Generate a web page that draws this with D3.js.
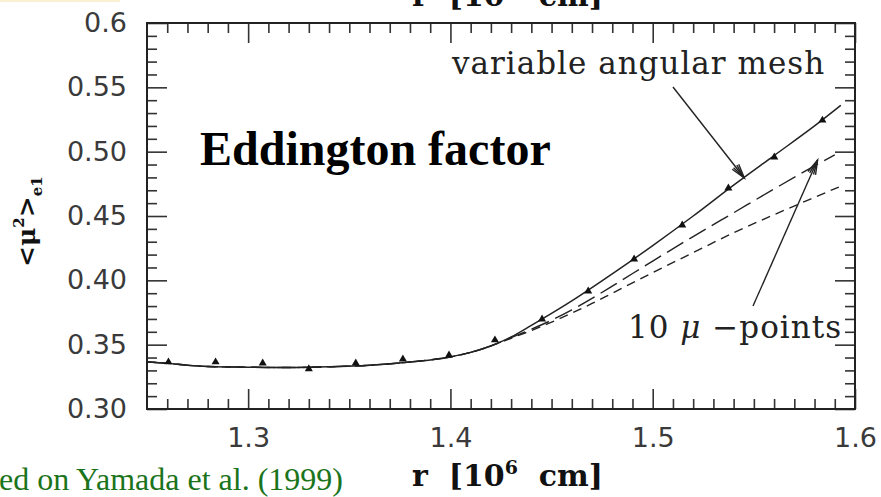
<!DOCTYPE html>
<html>
<head>
<meta charset="utf-8">
<script src="https://cdn.jsdelivr.net/npm/d3@7"></script>
<style>
  body { margin: 0; background: #fff; }
  svg { display: block; }
</style>
</head>
<body>
<svg id="chart" width="881" height="497"></svg>
<script>
// Data (r in 10^6 cm, Eddington factor <mu^2>)
const meshR  = [1.25, 1.26, 1.27, 1.28, 1.30, 1.32, 1.34, 1.36, 1.38, 1.40, 1.41, 1.42, 1.43, 1.44, 1.46, 1.48, 1.50, 1.52, 1.54, 1.56, 1.58, 1.593];
const meshMu = [0.3365, 0.3355, 0.334, 0.333, 0.3325, 0.3322, 0.3328, 0.334, 0.3365, 0.3405, 0.344, 0.349, 0.356, 0.365, 0.384, 0.405, 0.427, 0.450, 0.474, 0.497, 0.520, 0.536];

const tenR  = [1.25, 1.26, 1.27, 1.28, 1.30, 1.32, 1.34, 1.36, 1.38, 1.40, 1.41, 1.42, 1.43, 1.44, 1.45, 1.46, 1.47, 1.48, 1.50, 1.52, 1.54, 1.56, 1.58, 1.59];
const tenMu = [0.3365, 0.3355, 0.334, 0.333, 0.3325, 0.3322, 0.3328, 0.334, 0.3365, 0.3405, 0.344, 0.349, 0.3555, 0.362, 0.369, 0.377, 0.386, 0.3955, 0.415, 0.434, 0.4525, 0.471, 0.489, 0.4975];

const shortR  = [1.25, 1.26, 1.27, 1.28, 1.30, 1.32, 1.34, 1.36, 1.38, 1.40, 1.41, 1.42, 1.43, 1.44, 1.45, 1.46, 1.47, 1.48, 1.50, 1.52, 1.54, 1.56, 1.58, 1.592];
const shortMu = [0.3365, 0.3355, 0.334, 0.333, 0.3325, 0.3322, 0.3328, 0.334, 0.3365, 0.3405, 0.344, 0.349, 0.355, 0.361, 0.3675, 0.3745, 0.382, 0.390, 0.406, 0.4215, 0.437, 0.451, 0.4645, 0.4725];

// triangle markers on the variable mesh curve
const markR  = [1.2606, 1.2839, 1.3072, 1.3300, 1.3532, 1.3765, 1.3993, 1.4220, 1.4453, 1.4681, 1.4908, 1.5146, 1.5374, 1.5601, 1.5839];
const markMu = [0.3365, 0.3365, 0.3357, 0.3311, 0.3357, 0.3388, 0.3419, 0.3536, 0.3699, 0.3916, 0.4165, 0.4429, 0.4716, 0.4957, 0.5244];

const xTicks = [1.3, 1.4, 1.5, 1.6];
const yTicks = [0.30, 0.35, 0.40, 0.45, 0.50, 0.55, 0.60];
const yTickLabels = ["0.30", "0.35", "0.40", "0.45", "0.50", "0.55", "0.6"];

const svg = d3.select("#chart");

// pale strip left over from the slide
svg.append("rect")
  .attr("x", 0).attr("y", 0).attr("width", 120).attr("height", 2)
  .attr("fill", "#fbf1d2");

// scales
const x = d3.scaleLinear().domain([1.25, 1.6]).range([147, 855]);
const y = d3.scaleLinear().domain([0.30, 0.60]).range([409, 23]);

const xMinor = d3.range(126, 160).map(d => d / 100).filter(d => Math.round(d * 100) % 10 != 0);
const yMinor = d3.range(31, 60).map(d => d / 100).filter(d => Math.round(d * 100) % 5 != 0);

function cleanAxis(g) {
  g.select(".domain").remove();
  g.selectAll(".tick line").attr("stroke", "#333").attr("stroke-width", 1.6);
  g.selectAll("text")
    .attr("font-family", "DejaVu Sans")
    .attr("font-size", 27)
    .attr("fill", "#3a3a3a");
}

// bottom
svg.append("g")
  .attr("transform", `translate(0,${y(0.30)})`)
  .call(d3.axisBottom(x).tickValues(xMinor).tickSize(-10).tickFormat(""))
  .call(cleanAxis);
svg.append("g")
  .attr("transform", `translate(0,${y(0.30)})`)
  .call(d3.axisBottom(x).tickValues(xTicks).tickSize(-20).tickPadding(19).tickFormat(d3.format(".1f")))
  .call(cleanAxis);

// top
svg.append("g")
  .attr("transform", `translate(0,${y(0.60)})`)
  .call(d3.axisTop(x).tickValues(xMinor).tickSize(-10).tickFormat(""))
  .call(cleanAxis);
svg.append("g")
  .attr("transform", `translate(0,${y(0.60)})`)
  .call(d3.axisTop(x).tickValues(xTicks).tickSize(-20).tickFormat(""))
  .call(cleanAxis);

// left
svg.append("g")
  .attr("transform", `translate(${x(1.25)},0)`)
  .call(d3.axisLeft(y).tickValues(yMinor).tickSize(-10).tickFormat(""))
  .call(cleanAxis);
svg.append("g")
  .attr("transform", `translate(${x(1.25)},0)`)
  .call(d3.axisLeft(y).tickValues(yTicks).tickSize(-20).tickPadding(20)
    .tickFormat((d, i) => yTickLabels[i]))
  .call(cleanAxis);

// right
svg.append("g")
  .attr("transform", `translate(${x(1.6)},0)`)
  .call(d3.axisRight(y).tickValues(yMinor).tickSize(-10).tickFormat(""))
  .call(cleanAxis);
svg.append("g")
  .attr("transform", `translate(${x(1.6)},0)`)
  .call(d3.axisRight(y).tickValues(yTicks).tickSize(-20).tickFormat(""))
  .call(cleanAxis);

// frame
svg.append("rect")
  .attr("x", x(1.25)).attr("y", y(0.60))
  .attr("width", x(1.6) - x(1.25)).attr("height", y(0.30) - y(0.60))
  .attr("fill", "none").attr("stroke", "#222").attr("stroke-width", 2);

// curves
const line = d3.line()
  .x(d => x(d[0]))
  .y(d => y(d[1]))
  .curve(d3.curveMonotoneX);

svg.append("path")
  .datum(d3.zip(shortR, shortMu))
  .attr("d", line)
  .attr("fill", "none").attr("stroke", "#222").attr("stroke-width", 1.4)
  .attr("stroke-dasharray", "9,6");

svg.append("path")
  .datum(d3.zip(tenR, tenMu))
  .attr("d", line)
  .attr("fill", "none").attr("stroke", "#222").attr("stroke-width", 1.4)
  .attr("stroke-dasharray", "19,7");

svg.append("path")
  .datum(d3.zip(meshR, meshMu))
  .attr("d", line)
  .attr("fill", "none").attr("stroke", "#222").attr("stroke-width", 1.5);

svg.selectAll(".mark")
  .data(d3.zip(markR, markMu))
  .enter()
  .append("path")
  .attr("class", "mark")
  .attr("d", d3.symbol(d3.symbolTriangle, 28))
  .attr("transform", d => `translate(${x(d[0])},${y(d[1])})`)
  .attr("fill", "#111");

// annotations with open arrowheads
function arrow(x1, y1, x2, y2) {
  const a = Math.atan2(y2 - y1, x2 - x1);
  const len = 15, spread = 0.28;
  const g = svg.append("g").attr("stroke", "#222").attr("fill", "none").attr("stroke-width", 1.4);
  g.append("line").attr("x1", x1).attr("y1", y1).attr("x2", x2).attr("y2", y2);
  g.append("path").attr("d",
    `M${x2 - len * Math.cos(a - spread)},${y2 - len * Math.sin(a - spread)}` +
    `L${x2},${y2}` +
    `L${x2 - len * Math.cos(a + spread)},${y2 - len * Math.sin(a + spread)}`);
  g.append("path").attr("d",
    `M${x2 - len * Math.cos(a - spread / 2)},${y2 - len * Math.sin(a - spread / 2)}` +
    `L${x2},${y2}` +
    `L${x2 - len * Math.cos(a + spread / 2)},${y2 - len * Math.sin(a + spread / 2)}`);
}

svg.append("text")
  .attr("x", 452).attr("y", 74)
  .attr("font-family", "DejaVu Serif")
  .attr("font-size", 31)
  .attr("letter-spacing", 1)
  .attr("fill", "#222")
  .text("variable angular mesh");
arrow(673, 87, x(1.5453), y(0.4795));

svg.append("text")
  .attr("x", 628).attr("y", 338)
  .attr("font-family", "DejaVu Serif")
  .attr("font-size", 31)
  .attr("letter-spacing", 1)
  .attr("fill", "#222")
  .attr("xml:space", "preserve")
  .html("10 <tspan font-style='italic'>\u03bc</tspan> \u2212points");
arrow(753, 306, x(1.5815), y(0.4935));

// big label
svg.append("text")
  .attr("x", 200).attr("y", 165)
  .attr("font-family", "Liberation Serif")
  .attr("font-weight", "bold")
  .attr("font-size", 48)
  .attr("fill", "#000")
  .text("Eddington factor");

// axis titles
const xTitle = "r  [10<tspan font-size='19' dy='-12'>6</tspan><tspan dy='12'>  cm]</tspan>";
svg.append("text")
  .attr("x", 412).attr("y", 486)
  .attr("font-family", "DejaVu Serif")
  .attr("font-weight", "bold")
  .attr("font-size", 30)
  .attr("fill", "#111")
  .attr("xml:space", "preserve")
  .html(xTitle);
// the same title of the top axis, mostly cut off by the picture edge
svg.append("text")
  .attr("x", 412).attr("y", 6)
  .attr("font-family", "DejaVu Serif")
  .attr("font-weight", "bold")
  .attr("font-size", 30)
  .attr("fill", "#111")
  .attr("xml:space", "preserve")
  .html(xTitle);

svg.append("text")
  .attr("transform", "translate(35,267) rotate(-90)")
  .attr("font-family", "DejaVu Serif")
  .attr("font-weight", "bold")
  .attr("font-size", 25)
  .attr("fill", "#111")
  .html("&lt;\u03bc<tspan font-size='15' dy='-11'>2</tspan><tspan dy='11'>&gt;</tspan><tspan font-size='15' dy='7'>e1</tspan>");

// source note, left part cut off by the picture edge
svg.append("text")
  .attr("x", 343).attr("y", 490)
  .attr("text-anchor", "end")
  .attr("font-family", "Liberation Serif")
  .attr("font-size", 32)
  .attr("fill", "#1b741b")
  .text("Based on Yamada et al. (1999)");
</script>
</body>
</html>
